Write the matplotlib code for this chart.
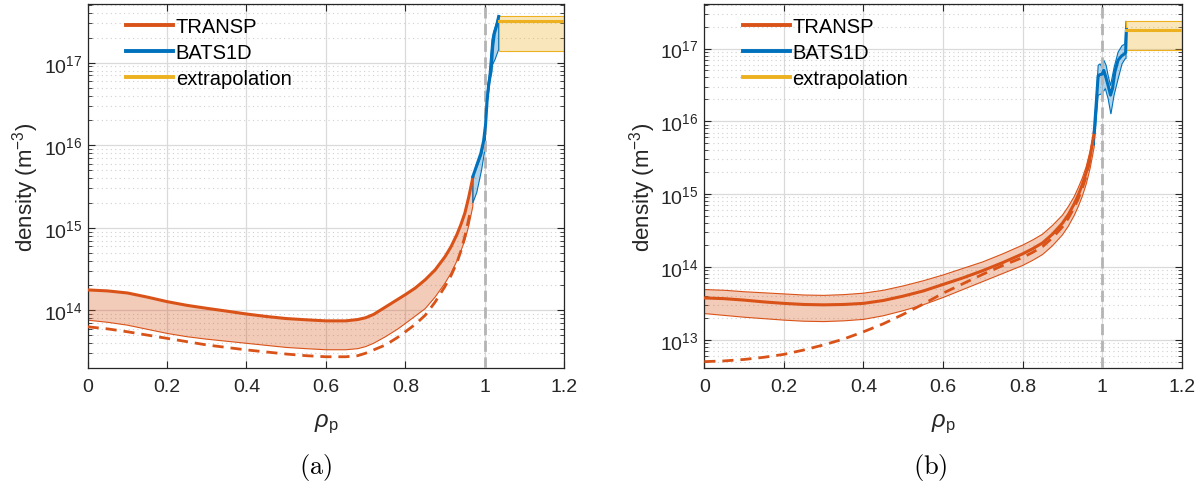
import numpy as np
import matplotlib
matplotlib.use("Agg")
import matplotlib.pyplot as plt
from matplotlib.ticker import LogLocator, NullFormatter, FixedLocator

plt.rcParams['font.family'] = ['Liberation Sans', 'DejaVu Sans']
plt.rcParams['mathtext.fontset'] = 'custom'
plt.rcParams['mathtext.rm'] = 'Liberation Sans'
plt.rcParams['mathtext.it'] = 'Liberation Sans:italic'
plt.rcParams['mathtext.bf'] = 'Liberation Sans:bold'

# ---------------- data (log10 of density, m^-3) ----------------
# panel (a)
a_transp_x = [0, 0.05, 0.1, 0.15, 0.2, 0.25, 0.3, 0.35, 0.4, 0.45, 0.5, 0.55, 0.6, 0.65, 0.68, 0.7,
              0.72, 0.75, 0.78, 0.8, 0.825, 0.85, 0.875, 0.9, 0.915, 0.93, 0.94, 0.95, 0.96, 0.97]
a_transp_main = [14.247, 14.235, 14.21, 14.16, 14.105, 14.06, 14.024, 13.99, 13.955, 13.925, 13.90,
                 13.885, 13.872, 13.872, 13.888, 13.91, 13.95, 14.04, 14.13, 14.19, 14.27, 14.37,
                 14.49, 14.65, 14.77, 14.92, 15.04, 15.18, 15.38, 15.61]
a_transp_low = [13.88, 13.855, 13.82, 13.77, 13.72, 13.68, 13.65, 13.625, 13.60, 13.575, 13.55,
                13.535, 13.522, 13.522, 13.535, 13.56, 13.60, 13.68, 13.77, 13.84, 13.93, 14.02,
                14.16, 14.33, 14.45, 14.60, 14.72, 14.85, 15.03, 15.26]
a_dash_x = [0, 0.05, 0.1, 0.15, 0.2, 0.25, 0.3, 0.35, 0.4, 0.45, 0.5, 0.55, 0.6, 0.65, 0.68, 0.7,
            0.72, 0.75, 0.78, 0.8, 0.825, 0.85, 0.875, 0.9, 0.915, 0.93, 0.94, 0.95, 0.965]
a_dash = [13.80, 13.775, 13.74, 13.70, 13.66, 13.62, 13.58, 13.55, 13.52, 13.495, 13.47, 13.45,
          13.437, 13.437, 13.45, 13.48, 13.52, 13.58, 13.67, 13.74, 13.83, 13.94, 14.10, 14.29,
          14.42, 14.58, 14.72, 14.90, 15.22]
a_bats_x = [0.970, 0.980, 0.990, 0.997, 1.002, 1.006, 1.010, 1.016, 1.020, 1.024, 1.030, 1.035]
a_bats = [15.62, 15.76, 15.90, 16.05, 16.25, 16.55, 16.75, 16.90, 17.20, 17.35, 17.45, 17.56]
a_bats_up_x = [0.970, 0.984, 0.992, 1.000, 1.005, 1.010, 1.018, 1.022, 1.035]
a_bats_up = [15.62, 15.78, 15.88, 16.07, 16.59, 16.80, 17.28, 17.37, 17.57]
a_bats_lo_x = [0.970, 0.980, 0.992, 1.000, 1.005, 1.012, 1.018, 1.026, 1.035]
a_bats_lo = [15.30, 15.43, 15.70, 15.94, 16.47, 16.72, 16.96, 17.04, 17.16]
a_extra_x = [1.035, 1.2]
a_extra = [17.50, 17.50]
a_extra_up = [17.56, 17.56]
a_extra_lo = [17.14, 17.14]

# panel (b)
b_transp_x = [0, 0.05, 0.1, 0.15, 0.2, 0.25, 0.3, 0.35, 0.4, 0.45, 0.5, 0.55, 0.6, 0.65, 0.7, 0.75,
              0.8, 0.825, 0.85, 0.875, 0.9, 0.915, 0.93, 0.94, 0.95, 0.96, 0.97, 0.98]
b_transp_main = [13.575, 13.565, 13.545, 13.52, 13.50, 13.485, 13.48, 13.485, 13.50, 13.54, 13.60,
                 13.67, 13.76, 13.85, 13.95, 14.06, 14.18, 14.25, 14.33, 14.45, 14.60, 14.72,
                 14.87, 14.99, 15.13, 15.30, 15.52, 15.85]
b_transp_up = [13.69, 13.68, 13.66, 13.645, 13.63, 13.615, 13.61, 13.62, 13.64, 13.68, 13.74, 13.81,
               13.89, 13.98, 14.07, 14.18, 14.30, 14.37, 14.45, 14.57, 14.71, 14.83, 14.97, 15.09,
               15.22, 15.38, 15.60, 15.87]
b_transp_low = [13.36, 13.335, 13.31, 13.29, 13.27, 13.255, 13.25, 13.26, 13.28, 13.33, 13.40, 13.48,
                13.58, 13.69, 13.80, 13.91, 14.02, 14.09, 14.17, 14.29, 14.44, 14.56, 14.71, 14.83,
                14.97, 15.14, 15.36, 15.65]
b_dash_x = [0, 0.05, 0.1, 0.15, 0.2, 0.25, 0.3, 0.35, 0.4, 0.45, 0.5, 0.55, 0.6, 0.65, 0.7, 0.75,
            0.8, 0.825, 0.85, 0.875, 0.9, 0.915, 0.93, 0.94, 0.95, 0.96, 0.97]
b_dash = [12.70, 12.71, 12.73, 12.76, 12.80, 12.86, 12.93, 13.01, 13.11, 13.22, 13.35, 13.49, 13.64,
          13.77, 13.90, 14.02, 14.13, 14.20, 14.28, 14.40, 14.55, 14.67, 14.82, 14.94, 15.08, 15.25,
          15.48]
b_bats_x = [0.98, 0.99, 0.994, 1.0, 1.004, 1.008, 1.015, 1.021, 1.026, 1.032, 1.04, 1.049, 1.057,
            1.059, 1.061]
b_bats = [15.85, 16.63, 16.64, 16.65, 16.70, 16.63, 16.49, 16.36, 16.45, 16.68, 16.84, 16.90, 16.93,
          16.95, 17.26]
b_bats_up_x = [0.98, 0.99, 0.995, 1.0, 1.004, 1.01, 1.015, 1.021, 1.03, 1.04, 1.05, 1.057, 1.06]
b_bats_up = [15.86, 16.77, 16.79, 16.74, 16.84, 16.77, 16.63, 16.49, 16.74, 16.95, 17.04, 17.06, 17.38]
b_bats_lo_x = [0.98, 0.99, 1.0, 1.008, 1.015, 1.022, 1.03, 1.04, 1.05, 1.058, 1.06]
b_bats_lo = [15.67, 16.36, 16.38, 16.45, 16.31, 16.10, 16.36, 16.58, 16.79, 16.86, 16.86]
b_extra_x = [1.06, 1.2]
b_extra = [17.256, 17.256]
b_extra_up = [17.38, 17.38]
b_extra_lo = [16.98, 16.98]

xticks = [0, 0.2, 0.4, 0.6, 0.8, 1.0, 1.2]
xticklabels = ['0', '0.2', '0.4', '0.6', '0.8', '1', '1.2']
legend_labels = ['TRANSP', 'BATS1D', 'extrapolation']
captions = ['(a)', '(b)']

C_T = '#D95319'
C_B = '#0072BD'
C_E = '#EDB120'
TXT = '#262626'


def p(v):
    return 10.0 ** np.asarray(v, dtype=float)


def band(ax, xu, yu, xl, yl, color):
    xs = np.r_[np.asarray(xu, float), np.asarray(xl, float)[::-1]]
    ys = np.r_[p(yu), p(yl)[::-1]]
    ax.fill(xs, ys, facecolor=color, alpha=0.3, edgecolor='none', zorder=2)
    ax.fill(xs, ys, facecolor='none', edgecolor=color, lw=0.8, zorder=2.5)


fig = plt.figure(figsize=(12.04, 4.85), dpi=100)
axA = fig.add_axes([0.0728, 0.2392, 0.3958, 0.7499])
axB = fig.add_axes([0.5850, 0.2392, 0.3965, 0.7499])

# panel a
band(axA, a_transp_x, a_transp_main, a_transp_x, a_transp_low, C_T)
band(axA, a_bats_up_x, a_bats_up, a_bats_lo_x, a_bats_lo, C_B)
band(axA, a_extra_x, a_extra_up, a_extra_x, a_extra_lo, C_E)
axA.plot(a_transp_x, p(a_transp_main), color=C_T, lw=2.2, zorder=4, label=legend_labels[0])
axA.plot(a_bats_x, p(a_bats), color=C_B, lw=2.2, zorder=4, label=legend_labels[1])
axA.plot(a_extra_x, p(a_extra), color=C_E, lw=2.2, zorder=4, label=legend_labels[2])
axA.plot(a_dash_x, p(a_dash), color=C_T, lw=2.0, ls=(0, (4, 2.5)), zorder=4)
axA.set_ylim(2.0e13, 5.1e17)

# panel b
band(axB, b_transp_x, b_transp_up, b_transp_x, b_transp_low, C_T)
band(axB, b_bats_up_x, b_bats_up, b_bats_lo_x, b_bats_lo, C_B)
band(axB, b_extra_x, b_extra_up, b_extra_x, b_extra_lo, C_E)
axB.plot(b_transp_x, p(b_transp_main), color=C_T, lw=2.2, zorder=4, label=legend_labels[0])
axB.plot(b_bats_x, p(b_bats), color=C_B, lw=2.2, zorder=4, label=legend_labels[1])
axB.plot(b_extra_x, p(b_extra), color=C_E, lw=2.2, zorder=4, label=legend_labels[2])
axB.plot(b_dash_x, p(b_dash), color=C_T, lw=2.0, ls=(0, (4, 2.5)), zorder=4)
axB.set_ylim(4.1e12, 4.05e17)

for ax, cap in zip([axA, axB], captions):
    ax.set_yscale('log')
    ax.set_xlim(0, 1.2)
    ax.axvline(1.0, color='#B4B4B4', lw=2.0, ls=(0, (4, 2)), zorder=3)
    ax.xaxis.set_major_locator(FixedLocator(xticks))
    ax.set_xticklabels(xticklabels)
    ax.yaxis.set_major_locator(LogLocator(base=10, numticks=20))
    ax.yaxis.set_minor_locator(LogLocator(base=10, subs=np.arange(2, 10), numticks=20))
    ax.yaxis.set_minor_formatter(NullFormatter())
    ax.grid(True, which='major', color='#DADADA', lw=0.9, zorder=0)
    ax.grid(True, which='minor', axis='y', color='#D0D0D0', lw=0.8, ls=(0, (1, 3)), zorder=0)
    ax.set_axisbelow(True)
    ax.tick_params(which='both', direction='in', top=True, right=True, colors=TXT, labelcolor=TXT)
    ax.tick_params(which='major', length=5, width=0.8, labelsize=14)
    ax.tick_params(which='minor', length=3, width=0.6)
    ax.tick_params(axis='x', pad=7)
    ax.tick_params(axis='y', pad=4)
    for s in ax.spines.values():
        s.set_color(TXT)
        s.set_linewidth(0.9)
    ax.set_ylabel('density (m$^{-3}$)', fontsize=16, color=TXT)
    ax.yaxis.set_label_coords(-0.097, 0.5)
    ax.set_xlabel(r'$\rho_{\mathrm{p}}$', fontsize=17, color=TXT)
    ax.xaxis.set_label_coords(0.5, -0.12)
    leg = ax.legend(loc='upper left', bbox_to_anchor=(0.073, 0.975), frameon=False, fontsize=14.5,
                    handlelength=2.3, handletextpad=0.15, labelspacing=0.33, borderpad=0.2,
                    borderaxespad=0.0)
    for t in leg.get_texts():
        t.set_color('black')
    for l in leg.get_lines():
        l.set_linewidth(2.8)

fig.text(316 / 1204, 1 - 468 / 485, r'$\mathrm{(a)}$', fontsize=19, ha='center', va='center',
         math_fontfamily='cm')
fig.text(930 / 1204, 1 - 468 / 485, r'$\mathrm{(b)}$', fontsize=19, ha='center', va='center',
         math_fontfamily='cm')

fig.savefig('out.png', dpi=100)
